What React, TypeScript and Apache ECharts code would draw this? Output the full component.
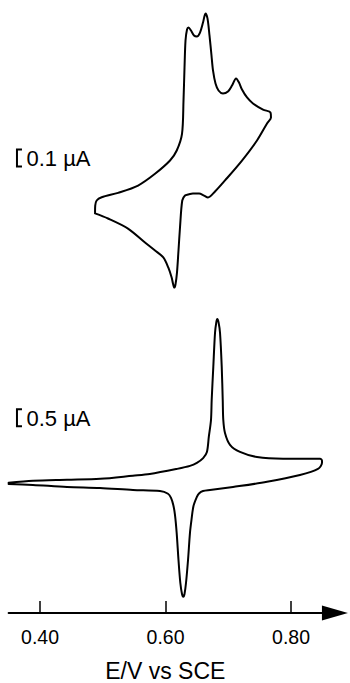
import { useEffect, useRef } from "react";
import * as echarts from "echarts";

// ---------- data ----------
const X_TICKS = [0.4, 0.6, 0.8];
const X_MIN = 0.35;
const X_MAX = 0.87;
const X_TITLE = "E/V vs SCE";

// upper voltammogram: potential (V vs SCE) and current (µA), anodic scan then return
const TOP_E = [
  0.4877, 0.488, 0.4903, 0.4983, 0.5244, 0.5563, 0.5833, 0.6072, 0.6179, 0.6263,
  0.6287, 0.6303, 0.6319, 0.6343, 0.6367, 0.6406, 0.6454, 0.65, 0.655, 0.6598,
  0.6637, 0.6669, 0.6701, 0.6733, 0.6757, 0.6797, 0.6845, 0.6916, 0.6996, 0.706,
  0.7124, 0.7171, 0.7219, 0.7299, 0.7394, 0.7554, 0.7673, 0.7681, 0.7618, 0.7458,
  0.7219, 0.6948, 0.6789, 0.6677, 0.6614, 0.6534, 0.6438, 0.6359, 0.6311, 0.6267,
  0.6231, 0.6207, 0.6183, 0.6159, 0.614, 0.6119, 0.6098, 0.6044, 0.5965, 0.5833,
  0.5673, 0.5402, 0.5084, 0.4877,
];
const TOP_I = [
  -0.071, -0.03, 0.0, 0.019, 0.045, 0.088, 0.157, 0.235, 0.294, 0.392,
  0.588, 0.782, 0.941, 1.006, 1.018, 1.0, 0.971, 0.965, 0.988, 1.047,
  1.1, 1.071, 0.971, 0.853, 0.765, 0.688, 0.647, 0.629, 0.641, 0.676,
  0.718, 0.694, 0.653, 0.606, 0.571, 0.535, 0.518, 0.488, 0.453, 0.353,
  0.235, 0.118, 0.053, 0.018, 0.029, 0.041, 0.041, 0.035, 0.029, 0.0,
  -0.159, -0.294, -0.424, -0.494, -0.512, -0.488, -0.453, -0.394, -0.335, -0.294,
  -0.247, -0.165, -0.106, -0.076,
];

// lower voltammogram: potential (V vs SCE) and current (µA)
const BOTTOM_E = [
  0.35, 0.389, 0.443, 0.496, 0.548, 0.575, 0.618, 0.639, 0.65, 0.66,
  0.666, 0.669, 0.6725, 0.6736, 0.6762, 0.6789, 0.681, 0.6825, 0.6845, 0.6869,
  0.6896, 0.6912, 0.6921, 0.6948, 0.7028, 0.7187, 0.7458, 0.7873, 0.8462, 0.8494,
  0.8494, 0.843, 0.8143, 0.7618, 0.7076, 0.6709, 0.6598, 0.6534, 0.65, 0.6446,
  0.6414, 0.639, 0.6359, 0.6327, 0.6303, 0.6284, 0.6263, 0.6236, 0.6207, 0.6178,
  0.6151, 0.6124, 0.6088, 0.604, 0.5912, 0.5482, 0.4956, 0.443, 0.3888, 0.35,
];
const BOTTOM_I = [
  0.03, 0.09, 0.12, 0.15, 0.24, 0.29, 0.44, 0.53, 0.62, 0.76,
  0.94, 1.38, 1.88, 2.47, 3.45, 4.44, 4.76, 4.85, 4.76, 4.44,
  3.45, 2.47, 1.88, 1.5, 1.15, 0.94, 0.79, 0.74, 0.74, 0.68,
  0.62, 0.44, 0.26, 0.06, -0.09, -0.18, -0.21, -0.28, -0.38, -0.65,
  -1.06, -1.44, -2.24, -2.91, -3.24, -3.32, -3.24, -2.91, -2.24, -1.44,
  -0.91, -0.62, -0.41, -0.29, -0.21, -0.18, -0.12, -0.09, -0.03, 0.0,
];

// current scale bars (µA spans) and their labels
const TOP_SCALE = [0.2, 0.3];
const TOP_SCALE_LABEL = "0.1 µA";
const BOTTOM_SCALE = [1.7, 2.2];
const BOTTOM_SCALE_LABEL = "0.5 µA";

// ---------- layout ----------
const FONT = "'Liberation Sans', Arial, Helvetica, sans-serif";
const GRID_LEFT = 8.625;
const GRID_RIGHT = 15.075;
const SCALE_BAR_E = 0.3633;

export default function App() {
  const ref = useRef<HTMLDivElement>(null);

  useEffect(() => {
    if (!ref.current) return;
    const chart = echarts.init(ref.current, null, { renderer: "svg" });
    const top = TOP_E.map((e, k) => [e, TOP_I[k]]);
    const bottom = BOTTOM_E.map((e, k) => [e, BOTTOM_I[k]]);
    const lineStyle = { color: "#000", width: 2, join: "round", cap: "round" };

    chart.setOption({
      animation: false,
      backgroundColor: "#fff",
      grid: [
        { left: GRID_LEFT, right: GRID_RIGHT, top: 5, height: 297.5 },
        { left: GRID_LEFT, right: GRID_RIGHT, top: 314, height: 299.2 },
      ],
      xAxis: [
        { gridIndex: 0, type: "value", min: X_MIN, max: X_MAX, show: false },
        {
          gridIndex: 1,
          type: "value",
          min: X_MIN,
          max: X_MAX,
          position: "bottom",
          name: X_TITLE,
          nameLocation: "middle",
          nameGap: 46,
          nameTextStyle: { fontFamily: FONT, fontSize: 23, color: "#000", padding: [0, 13, 0, 0] },
          axisLine: {
            onZero: false,
            lineStyle: { color: "#000", width: 2 },
            symbol: ["none", "triangle"],
            symbolSize: [15, 26],
          },
          axisTick: {
            show: true,
            inside: true,
            length: 12,
            customValues: X_TICKS,
            lineStyle: { color: "#000", width: 1.5 },
          },
          axisLabel: {
            customValues: X_TICKS,
            formatter: (v: number) => v.toFixed(2),
            fontFamily: FONT,
            fontSize: 19.5,
            color: "#000",
            margin: 14,
          },
          splitLine: { show: false },
        },
      ],
      yAxis: [
        { gridIndex: 0, type: "value", min: -0.6, max: 1.15, show: false },
        { gridIndex: 1, type: "value", min: -3.8, max: 5, show: false },
      ],
      series: [
        {
          type: "line",
          xAxisIndex: 0,
          yAxisIndex: 0,
          data: top,
          showSymbol: false,
          smooth: 0.3,
          clip: false,
          lineStyle,
        },
        {
          type: "line",
          xAxisIndex: 1,
          yAxisIndex: 1,
          data: bottom,
          showSymbol: false,
          smooth: 0.3,
          clip: false,
          lineStyle,
        },
      ],
    });

    const scaleBar = (gridIndex: number, span: number[], label: string) => {
      const a = chart.convertToPixel({ gridIndex }, [SCALE_BAR_E, span[1]]) as number[];
      const b = chart.convertToPixel({ gridIndex }, [SCALE_BAR_E, span[0]]) as number[];
      const x = a[0];
      return [
        {
          type: "polyline",
          shape: { points: [[x + 5, a[1]], [x, a[1]], [x, b[1]], [x + 5, b[1]]] },
          style: { stroke: "#000", lineWidth: 2, fill: "none" },
        },
        {
          type: "text",
          x: x + 9.5,
          y: (a[1] + b[1]) / 2 + 0.5,
          style: {
            text: label,
            fontFamily: FONT,
            fontSize: 22,
            fill: "#000",
            align: "left",
            verticalAlign: "middle",
            textAlign: "left",
            textVerticalAlign: "middle",
          },
        },
      ];
    };

    chart.setOption({
      graphic: [
        ...scaleBar(0, TOP_SCALE, TOP_SCALE_LABEL),
        ...scaleBar(1, BOTTOM_SCALE, BOTTOM_SCALE_LABEL),
      ],
    });

    return () => chart.dispose();
  }, []);

  return (
    <div
      ref={ref}
      style={{ position: "absolute", left: 0, top: 0, width: 350, height: 683 }}
    />
  );
}
